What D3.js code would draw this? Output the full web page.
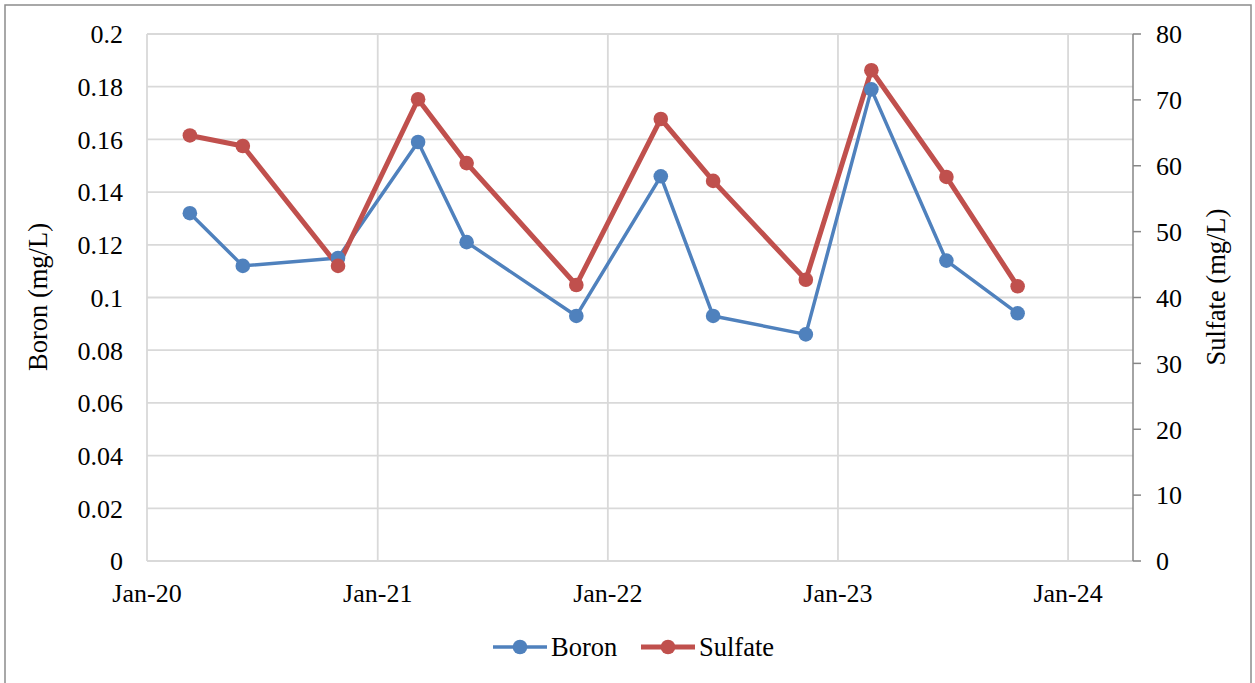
<!DOCTYPE html>
<html>
<head>
<meta charset="utf-8">
<script src="https://cdn.jsdelivr.net/npm/d3@7"></script>
<style>
body, html{
  margin:0;
  padding:0;
  background:#fff;
}
</style>
</head>
<body>
<svg id="chart" width="1255" height="683" font-family="'Liberation Serif', 'Times New Roman', Times, serif"></svg>
<script>
// sample dates and measured values
var dates = ["2020-03-09","2020-06-01","2020-10-30","2021-03-06","2021-05-22","2021-11-12",
             "2022-03-26","2022-06-17","2022-11-11","2023-02-23","2023-06-22","2023-10-13"]
var boron = [0.132,0.112,0.115,0.159,0.121,0.093,0.146,0.093,0.086,0.179,0.114,0.094]
var sulfate = [64.6,63.0,44.8,70.1,60.4,41.9,67.1,57.7,42.7,74.5,58.3,41.7]
var xTicks = ["2020-01-01","2021-01-01","2022-01-01","2023-01-01","2024-01-01"]
var boronTicks = [0,0.02,0.04,0.06,0.08,0.1,0.12,0.14,0.16,0.18,0.2]
var sulfateTicks = [0,10,20,30,40,50,60,70,80]
var xDomain = ["2020-01-01","2024-04-13"]
var seriesNames = ["Boron","Sulfate"]
var colors = ["#4f81bd","#c0504d"]

var parse = d3.utcParse("%Y-%m-%d")
var svg = d3.select("#chart")
var pL = 147, pR = 1133, pT = 34, pB = 561 // plot area
var fs = 26

// outer frame
svg.append("rect").attr("x",5).attr("y",5).attr("width",1246).attr("height",700)
  .attr("fill","none").attr("stroke","#8c8c8c").attr("stroke-width",1.5)

var x = d3.scaleUtc().domain(xDomain.map(parse)).range([pL,pR])
var yB = d3.scaleLinear().domain([0,0.2]).range([pB,pT])
var yS = d3.scaleLinear().domain([0,80]).range([pB,pT])

// gridlines
var grid = svg.append("g").attr("stroke","#d9d9d9").attr("stroke-width",1.8)
grid.selectAll("line.h").data(boronTicks).enter().append("line")
  .attr("x1",pL).attr("x2",pR)
  .attr("y1",d=>yB(d)).attr("y2",d=>yB(d))
grid.selectAll("line.v").data(xTicks).enter().append("line")
  .attr("x1",d=>x(parse(d))).attr("x2",d=>x(parse(d)))
  .attr("y1",pT).attr("y2",pB)

// right axis line + ticks
var ra = svg.append("g").attr("stroke","#868686").attr("stroke-width",1.5)
ra.append("line").attr("x1",pR).attr("x2",pR).attr("y1",pT).attr("y2",pB)
ra.selectAll("line.t").data(sulfateTicks).enter().append("line")
  .attr("x1",pR).attr("x2",pR+8)
  .attr("y1",d=>yS(d)).attr("y2",d=>yS(d))

// tick labels
var fmtB = d3.format(".2~f")
svg.append("g").selectAll("text").data(boronTicks).enter().append("text")
  .attr("x",pL-24).attr("y",d=>yB(d)).attr("dy","0.36em")
  .attr("text-anchor","end").attr("font-size",fs)
  .text(d=>fmtB(d))
svg.append("g").selectAll("text").data(sulfateTicks).enter().append("text")
  .attr("x",pR+23).attr("y",d=>yS(d)).attr("dy","0.36em")
  .attr("text-anchor","start").attr("font-size",fs)
  .text(d=>d)
var fmtX = d3.utcFormat("%b-%y")
svg.append("g").selectAll("text").data(xTicks).enter().append("text")
  .attr("x",d=>x(parse(d))).attr("y",pB+41)
  .attr("text-anchor","middle").attr("font-size",fs)
  .text(d=>fmtX(parse(d)))

// axis titles
svg.append("text").attr("transform","translate(47,297) rotate(-90)")
  .attr("text-anchor","middle").attr("font-size",26.5).text("Boron (mg/L)")
svg.append("text").attr("transform","translate(1225,287) rotate(-90)")
  .attr("text-anchor","middle").attr("font-size",26.5).text("Sulfate (mg/L)")

// series
var pts = [
  dates.map((d,i)=>[x(parse(d)), yB(boron[i])]),
  dates.map((d,i)=>[x(parse(d)), yS(sulfate[i])])
]
var widths = [3.5,5]
var line = d3.line()
pts.forEach(function(p,k){
  svg.append("path").attr("d",line(p)).attr("fill","none")
    .attr("stroke",colors[k]).attr("stroke-width",widths[k]).attr("stroke-linejoin","round")
})
pts.forEach(function(p,k){
  svg.append("g").selectAll("circle").data(p).enter().append("circle")
    .attr("cx",d=>d[0]).attr("cy",d=>d[1]).attr("r",7.3).attr("fill",colors[k])
})

// legend
var legX = [493,641]
seriesNames.forEach(function(n,k){
  var g = svg.append("g").attr("transform","translate("+legX[k]+",647)")
  g.append("line").attr("x1",0).attr("x2",54).attr("y1",0).attr("y2",0)
    .attr("stroke",colors[k]).attr("stroke-width",widths[k])
  g.append("circle").attr("cx",27).attr("cy",0).attr("r",7.3).attr("fill",colors[k])
  g.append("text").attr("x",58).attr("y",0).attr("dy","0.34em").attr("font-size",26.5).text(n)
})
</script>
</body>
</html>
